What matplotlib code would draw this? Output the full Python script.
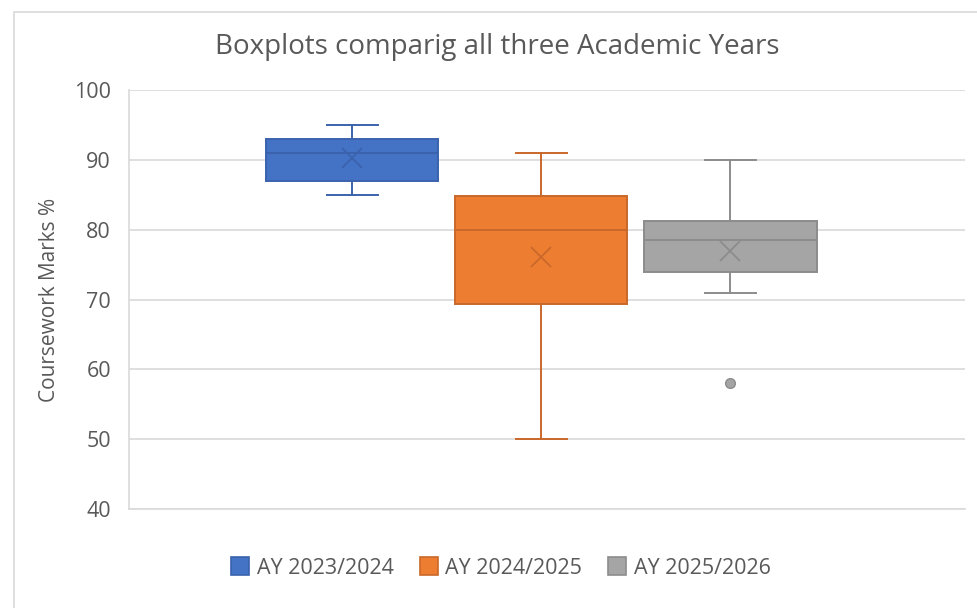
import matplotlib.pyplot as plt
from matplotlib.patches import Patch, Rectangle
from matplotlib import font_manager

# values
labels = ["AY 2023/2024", "AY 2024/2025", "AY 2025/2026"]
whislo = [85, 50, 71]
q1 = [87, 69.3, 74]
med = [91, 80, 78.5]
q3 = [93, 84.8, 81.3]
whishi = [95, 91, 90]
means = [90.3, 76.1, 77.0]
fliers = [[], [], [58]]

fills = ["#4472C4", "#ED7D31", "#A5A5A5"]
edges = ["#3A62AD", "#C9682A", "#8C8C8C"]
txt = "#595959"

names = {f.name for f in font_manager.fontManager.ttflist}
base = "Open Sans" if "Open Sans" in names else "DejaVu Sans"
plt.rcParams["font.family"] = [base, "DejaVu Sans"]

fig = plt.figure(figsize=(9.78, 6.08), dpi=100)
fig.patches.append(Rectangle((14 / 978, -0.1), 1.1, 1 - 12 / 608 + 0.1,
                             transform=fig.transFigure, fill=False,
                             edgecolor="#D9D9D9", lw=1.2))
ax = fig.add_axes([129 / 978, 1 - 509 / 608, (965 - 129) / 978, (509 - 90) / 608])

for i in range(3):
    st = [dict(whislo=whislo[i], q1=q1[i], med=med[i], q3=q3[i],
               whishi=whishi[i], mean=means[i], fliers=fliers[i], label=labels[i])]
    ax.bxp(st, positions=[i + 1], widths=0.91, patch_artist=True,
           showmeans=True, manage_ticks=False,
           boxprops=dict(facecolor=fills[i], edgecolor=edges[i], lw=1.4),
           medianprops=dict(color=edges[i], lw=1.4),
           whiskerprops=dict(color=edges[i], lw=1.4),
           capprops=dict(color=edges[i], lw=1.4),
           capwidths=0.27,
           meanprops=dict(marker="x", markersize=14, markeredgecolor=edges[i],
                          markeredgewidth=1.3),
           flierprops=dict(marker="o", markersize=7, markerfacecolor=fills[i],
                           markeredgecolor=edges[i]))

ax.set_ylim(40, 100)
ax.set_xlim(-0.18, 4.24)
ax.set_yticks(range(40, 101, 10))
ax.set_xticks([])
ax.yaxis.grid(True, color="#D9D9D9", lw=1.2)
ax.set_axisbelow(True)
for s in ["top", "right"]:
    ax.spines[s].set_visible(False)
ax.spines["left"].set_color("#D9D9D9")
ax.spines["bottom"].set_color("#D9D9D9")
ax.spines["left"].set_linewidth(1.2)
ax.spines["bottom"].set_linewidth(1.2)
ax.tick_params(axis="y", length=0, pad=13, labelsize=15.5, labelcolor=txt)
ax.set_ylabel("Coursework Marks %", fontsize=15, color=txt, labelpad=10)

fig.text(497 / 978, 1 - 47 / 608, "Boxplots comparig all three Academic Years",
         ha="center", va="center", fontsize=20, color=txt)

handles = [Patch(facecolor=fills[i], edgecolor=edges[i], lw=1.2, label=labels[i]) for i in range(3)]
fig.legend(handles=handles, loc="center", bbox_to_anchor=(501 / 978, 1 - 568 / 608),
           ncol=3, frameon=False, fontsize=15.5, labelcolor=txt,
           handlelength=0.85, handleheight=0.85, columnspacing=1.2, handletextpad=0.35)

fig.savefig("out.png", dpi=100)
